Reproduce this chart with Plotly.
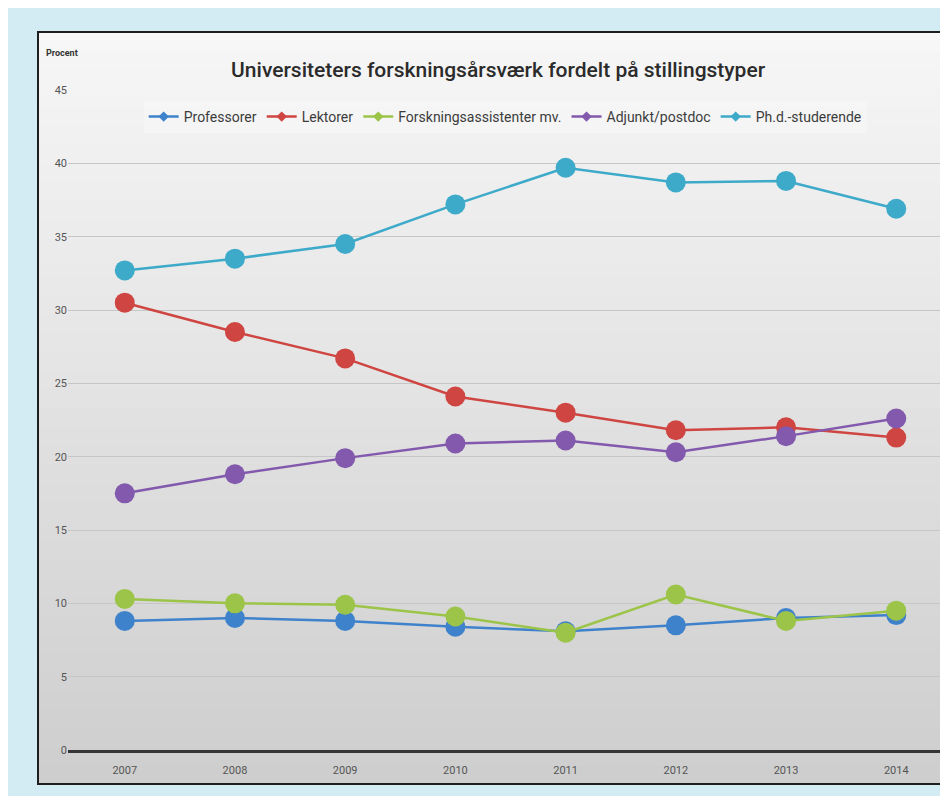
import plotly.graph_objects as go

years = ["2007", "2008", "2009", "2010", "2011", "2012", "2013", "2014"]
professorer = [8.8, 9.0, 8.8, 8.4, 8.1, 8.5, 9.0, 9.2]
lektorer = [30.5, 28.5, 26.7, 24.1, 23.0, 21.8, 22.0, 21.3]
forskningsassistenter = [10.3, 10.0, 9.9, 9.1, 8.0, 10.6, 8.8, 9.5]
adjunkt = [17.5, 18.8, 19.9, 20.9, 21.1, 20.3, 21.4, 22.6]
phd = [32.7, 33.5, 34.5, 37.2, 39.7, 38.7, 38.8, 36.9]

series_names = ["Professorer", "Lektorer", "Forskningsassistenter mv.", "Adjunkt/postdoc", "Ph.d.-studerende"]
series_values = [professorer, lektorer, forskningsassistenter, adjunkt, phd]
colors = ["#3f82cc", "#cf4541", "#9cc448", "#8259ad", "#3eaac9"]

y_ticks = [0, 5, 10, 15, 20, 25, 30, 35, 40, 45]

fig = go.Figure()

# data traces
for name, vals, col in zip(series_names, series_values, colors):
    fig.add_trace(go.Scatter(
        x=years, y=vals, mode="lines+markers", name=name,
        line=dict(color=col, width=2.5),
        marker=dict(color=col, size=20, symbol="circle"),
        showlegend=False,
    ))

# legend entries (small diamond markers like the original)
for name, col in zip(series_names, colors):
    fig.add_trace(go.Scatter(
        x=[None], y=[None], mode="lines+markers", name=name,
        line=dict(color=col, width=2.5),
        marker=dict(color=col, size=8, symbol="diamond"),
        showlegend=True,
    ))

# card background: vertical gray gradient built from bands
plot_l, plot_r, plot_t, plot_b = 60, 945, 82, 742
pw, ph = plot_r - plot_l, plot_b - plot_t
def px_to_paper_x(px):
    return (px - plot_l) / pw
def px_to_paper_y(py):
    return (plot_b - py) / ph

card_top, card_bot, card_left = 24, 776, 30
n_bands = 40
shapes = []
for i in range(n_bands):
    t0 = card_top + (card_bot - card_top) * i / n_bands
    t1 = card_top + (card_bot - card_top) * (i + 1) / n_bands
    f = i / (n_bands - 1)
    g = int(247 - f * (247 - 206))
    shapes.append(dict(
        type="rect", xref="paper", yref="paper", layer="below",
        x0=px_to_paper_x(card_left), x1=px_to_paper_x(960),
        y0=px_to_paper_y(t1) - 0.001, y1=px_to_paper_y(t0),
        fillcolor=f"rgb({g},{g},{g})", line=dict(width=0),
    ))
shapes.append(dict(
    type="rect", xref="paper", yref="paper", layer="below",
    x0=px_to_paper_x(card_left), x1=px_to_paper_x(970),
    y0=px_to_paper_y(card_bot), y1=px_to_paper_y(card_top),
    fillcolor="rgba(0,0,0,0)", line=dict(color="#1e1e1e", width=2),
))

fig.update_layout(
    width=948, height=796,
    margin=dict(l=plot_l, r=948 - plot_r, t=plot_t, b=796 - plot_b),
    paper_bgcolor="#d3ebf2",
    plot_bgcolor="rgba(0,0,0,0)",
    shapes=shapes,
    title=dict(
        text="Universiteters forskningsårsværk fordelt på stillingstyper",
        x=0.517, xref="container", xanchor="center",
        y=0.922, yref="container", yanchor="middle",
        font=dict(family="Roboto, Liberation Sans, Arial", size=21, weight=500, color="#2b2b2b"),
    ),
    font=dict(family="Roboto, Liberation Sans, Arial", color="#555555"),
    legend=dict(
        orientation="h", x=0.494, xanchor="center", y=px_to_paper_y(109), yanchor="middle",
        bgcolor="rgba(246,246,246,0.85)",
        font=dict(family="Roboto, Liberation Sans, Arial", size=14, color="#3c3c3c"),
        itemwidth=30, tracegroupgap=0,
    ),
    xaxis=dict(
        type="category", categoryorder="array", categoryarray=years,
        showgrid=False, showline=True, linecolor="#353535", linewidth=3,
        ticks="", tickfont=dict(size=11, color="#555555"),
        ticklabelstandoff=8,
    ),
    yaxis=dict(
        range=[0, 45], tickvals=y_ticks, ticktext=[str(v) for v in y_ticks],
        showgrid=True, gridcolor="#c6c6c6", gridwidth=1,
        zeroline=False, showline=False, ticks="",
        tickfont=dict(size=11, color="#555555"),
    ),
    annotations=[dict(
        text="<b>Procent</b>", xref="paper", yref="paper",
        x=px_to_paper_x(36), y=px_to_paper_y(45), xanchor="left", yanchor="middle",
        showarrow=False, font=dict(size=9, color="#333333"),
    )],
)

fig.write_html("out.html")
